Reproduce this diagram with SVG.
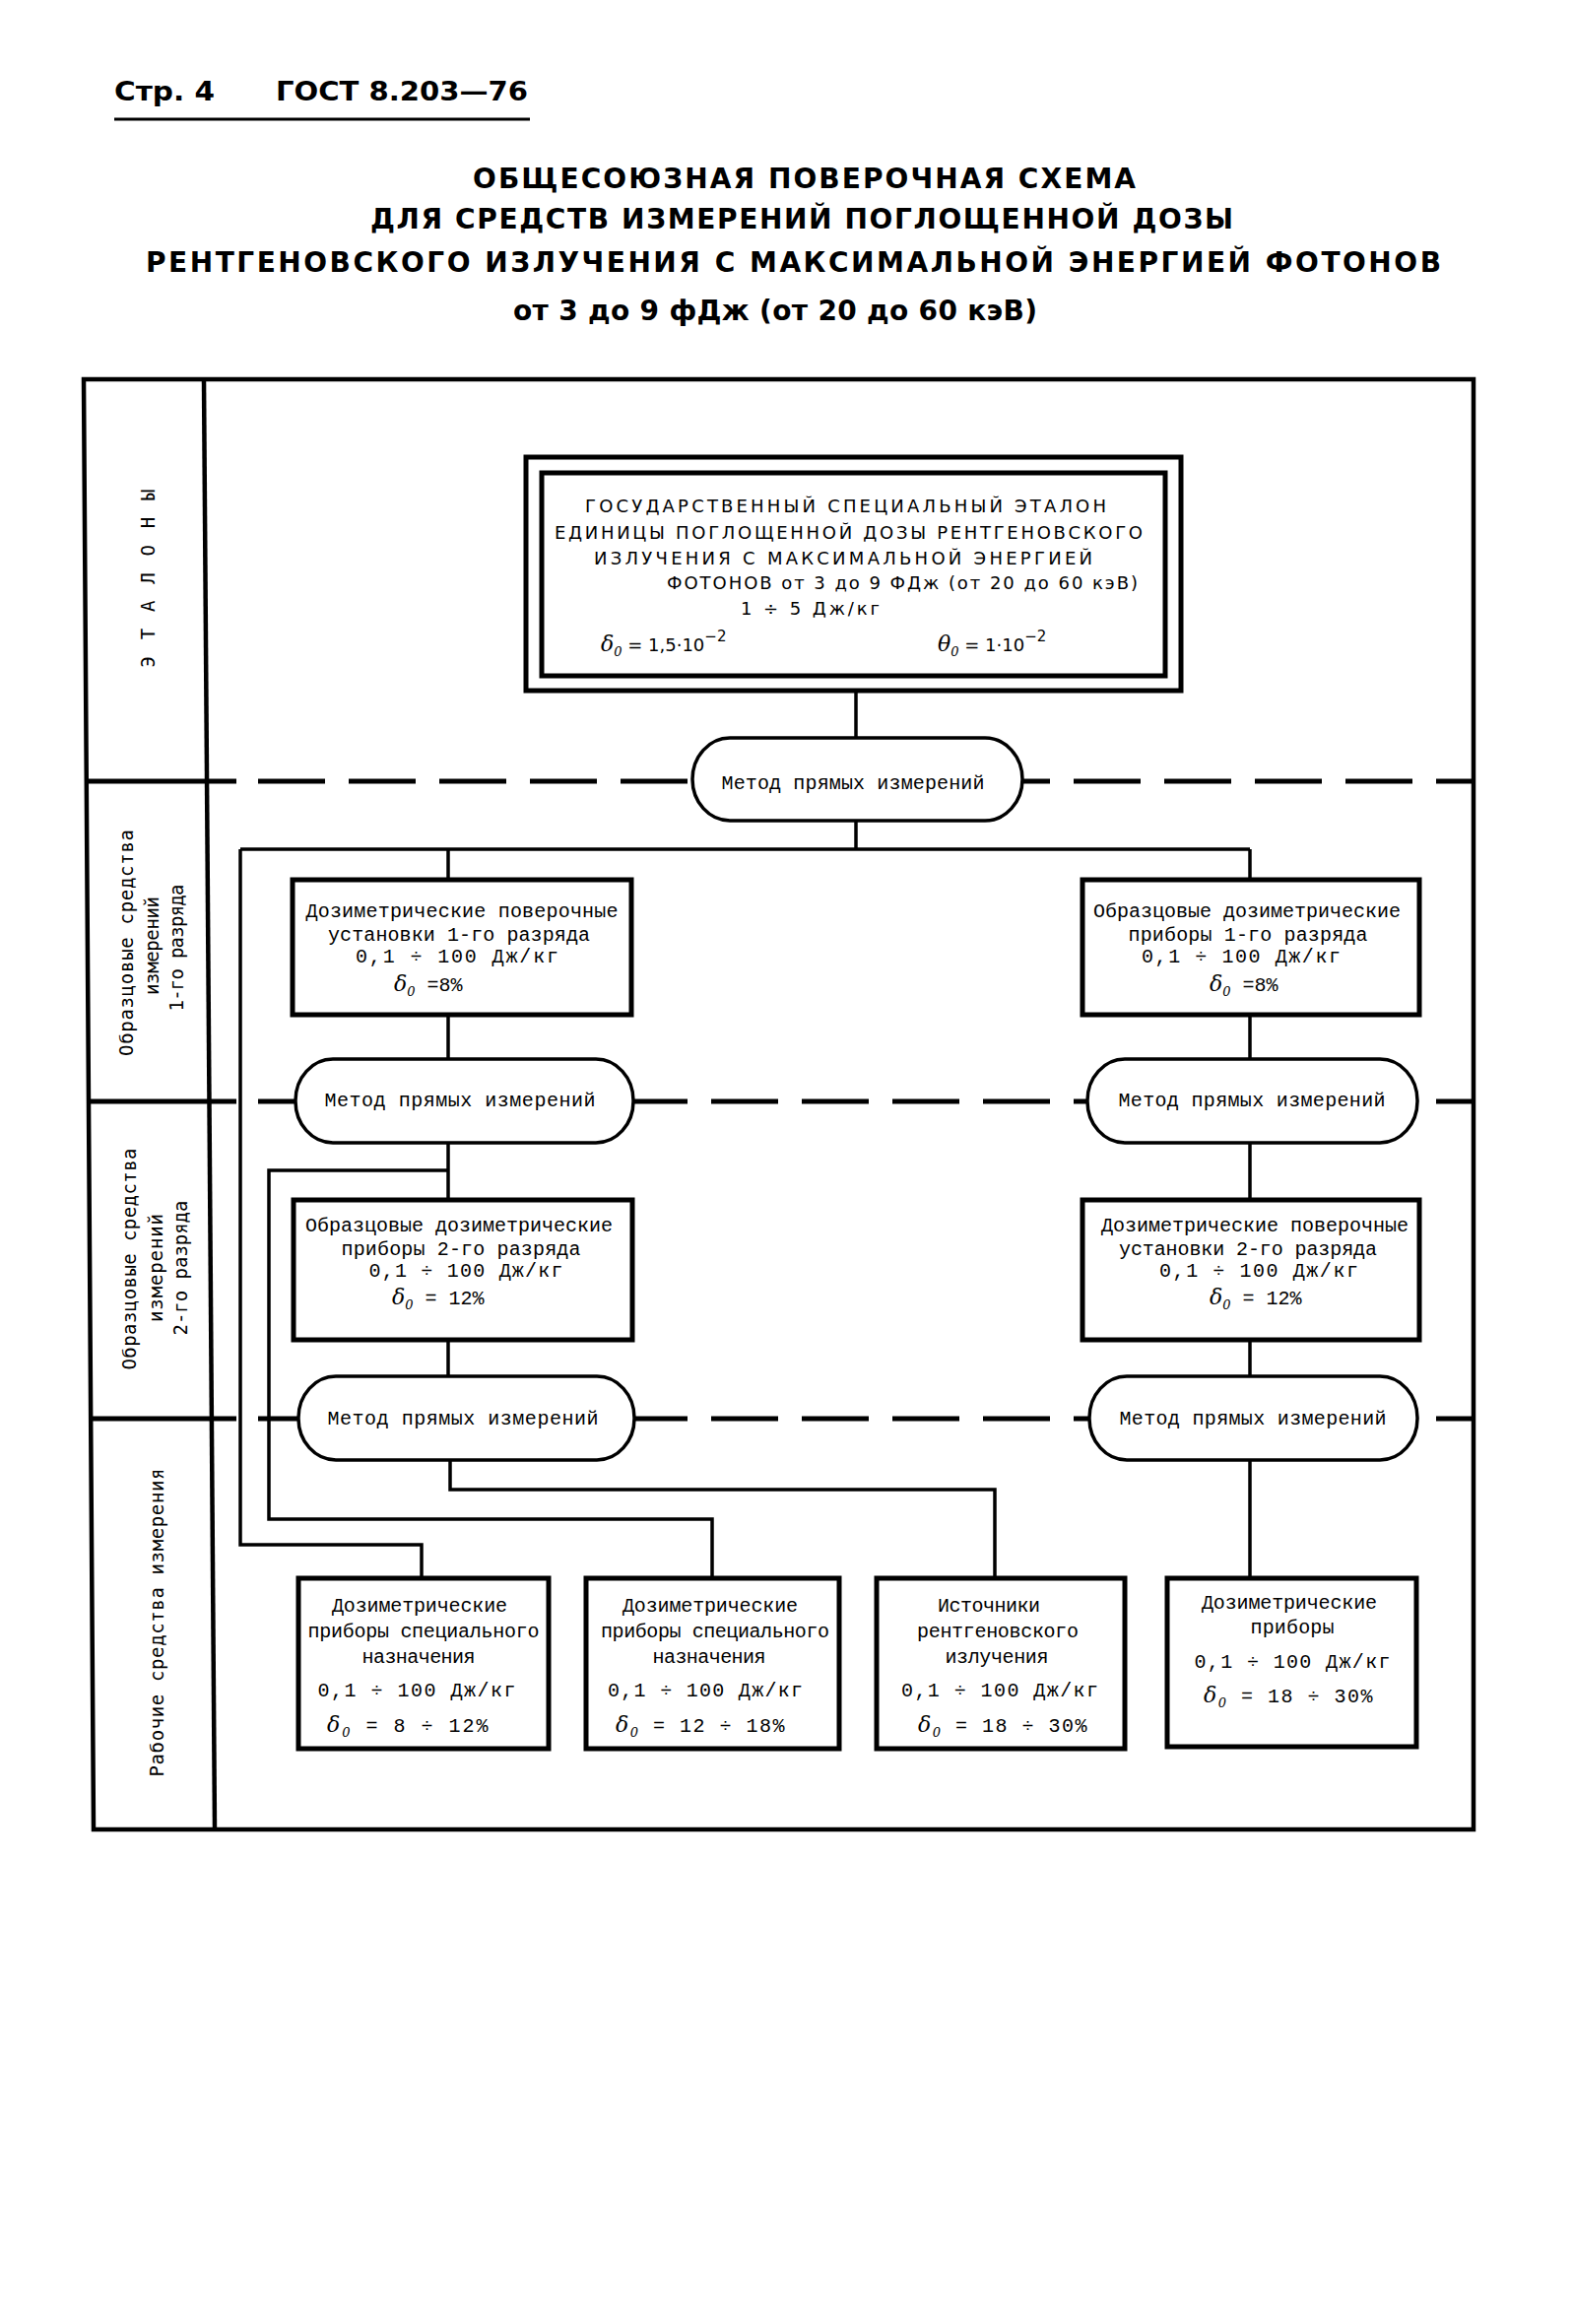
<svg xmlns="http://www.w3.org/2000/svg" width="1597" height="2359" viewBox="0 0 1597 2359">
<style>
.frame{fill:none;stroke:#000;stroke-width:4.5}
.sep{stroke:#000;stroke-width:5;fill:none}
.dash{stroke:#000;stroke-width:5;fill:none;stroke-dasharray:68 24}
.conn{stroke:#000;stroke-width:3.5;fill:none}
.box{fill:#fff;stroke:#000;stroke-width:5}
.oval{fill:#fff;stroke:#000;stroke-width:3.5}
.t{font-family:"Liberation Mono","DejaVu Sans Mono",monospace;font-size:20px;text-anchor:middle;fill:#000}
.ts{font-family:"Liberation Mono","DejaVu Sans Mono",monospace;font-size:20px;fill:#000}
.cap{font-family:"DejaVu Sans","Liberation Sans",sans-serif;font-size:18px;fill:#000}
.lab{font-family:"DejaVu Sans Mono","Liberation Mono",monospace;font-size:19px;text-anchor:middle;fill:#000}
.title{font-family:"DejaVu Sans","Liberation Sans",sans-serif;font-weight:bold;font-size:28px;fill:#000}
.hdr{font-family:"DejaVu Sans","Liberation Sans",sans-serif;font-weight:bold;font-size:26px;fill:#000}
.dl{font-family:"DejaVu Serif","Liberation Serif",serif;font-style:italic;font-size:22px}
.sub{font-family:"DejaVu Serif","Liberation Serif",serif;font-style:italic;font-size:13px}
</style>
<rect x="0" y="0" width="1597" height="2359" fill="#fff"/>

<g id="header">
<text class="hdr" x="116" y="102" textLength="102" lengthAdjust="spacingAndGlyphs">Стр. 4</text>
<text class="hdr" x="280" y="102" textLength="256" lengthAdjust="spacingAndGlyphs">ГОСТ 8.203—76</text>
<line x1="116" y1="121" x2="538" y2="121" stroke="#000" stroke-width="3"/>
</g>

<g id="title">
<text class="title" x="480" y="191" textLength="673">ОБЩЕСОЮЗНАЯ ПОВЕРОЧНАЯ СХЕМА</text>
<text class="title" x="376" y="232" textLength="876">ДЛЯ СРЕДСТВ ИЗМЕРЕНИЙ ПОГЛОЩЕННОЙ ДОЗЫ</text>
<text class="title" x="148" y="276" textLength="1315">РЕНТГЕНОВСКОГО ИЗЛУЧЕНИЯ С МАКСИМАЛЬНОЙ ЭНЕРГИЕЙ ФОТОНОВ</text>
<text class="title" x="521" y="325" textLength="532">от 3 до 9 фДж (от 20 до 60 кэВ)</text>
</g>

<g id="frame">
<polygon class="frame" points="85,385 1496,385 1496,1857 95,1857"/>
<line class="frame" x1="207" y1="385" x2="218" y2="1857"/>
<line class="sep" x1="88" y1="793" x2="240" y2="793"/>
<line class="dash" x1="262" y1="793" x2="1496" y2="793"/>
<line class="sep" x1="90" y1="1118" x2="240" y2="1118"/>
<line class="dash" x1="262" y1="1118" x2="1496" y2="1118"/>
<line class="sep" x1="92" y1="1440" x2="240" y2="1440"/>
<line class="dash" x1="262" y1="1440" x2="1496" y2="1440"/>
</g>

<g id="row-labels">
<text id="lab-etalony" class="lab" font-family="DejaVu Sans, sans-serif" font-size="21" transform="translate(157,587) rotate(-90)" textLength="181">ЭТАЛОНЫ</text>
<g id="lab-rank1">
<text class="lab" transform="translate(135,957) rotate(-90)" textLength="230">Образцовые средства</text>
<text class="lab" transform="translate(161,960) rotate(-90)" textLength="100">измерений</text>
<text class="lab" transform="translate(186,962) rotate(-90)" textLength="129">1-го разряда</text>
</g>
<g id="lab-rank2">
<text class="lab" transform="translate(138,1278) rotate(-90)" textLength="225">Образцовые средства</text>
<text class="lab" transform="translate(165,1287) rotate(-90)" textLength="110">измерений</text>
<text class="lab" transform="translate(190,1287) rotate(-90)" textLength="137">2-го разряда</text>
</g>
<text id="lab-work" class="lab" transform="translate(166,1647) rotate(-90)" textLength="313">Рабочие средства измерения</text>
</g>

<g id="connectors">
<line class="conn" x1="869" y1="701" x2="869" y2="749"/>
<line class="conn" x1="869" y1="833" x2="869" y2="862"/>
<line class="conn" x1="244" y1="862" x2="1269" y2="862"/>
<line class="conn" x1="455" y1="862" x2="455" y2="893"/>
<line class="conn" x1="1269" y1="862" x2="1269" y2="893"/>
<line class="conn" x1="455" y1="1030" x2="455" y2="1075"/>
<line class="conn" x1="1269" y1="1030" x2="1269" y2="1075"/>
<line class="conn" x1="455" y1="1160" x2="455" y2="1218"/>
<line class="conn" x1="1269" y1="1160" x2="1269" y2="1218"/>
<line class="conn" x1="455" y1="1360" x2="455" y2="1397"/>
<line class="conn" x1="1269" y1="1360" x2="1269" y2="1397"/>
<polyline class="conn" points="244,862 244,1568 428,1568 428,1602"/>
<polyline class="conn" points="455,1188 273,1188 273,1542 723,1542 723,1602"/>
<polyline class="conn" points="457,1482 457,1512 1010,1512 1010,1602"/>
<line class="conn" x1="1269" y1="1482" x2="1269" y2="1602"/>
</g>

<g id="n-etalon">
<rect class="box" x="534" y="464" width="665" height="237"/>
<rect class="box" x="550" y="480" width="633" height="206"/>
<text class="cap" x="594" y="520" textLength="529">ГОСУДАРСТВЕННЫЙ СПЕЦИАЛЬНЫЙ ЭТАЛОН</text>
<text class="cap" x="563" y="547" textLength="597">ЕДИНИЦЫ ПОГЛОЩЕННОЙ ДОЗЫ РЕНТГЕНОВСКОГО</text>
<text class="cap" x="603" y="573" textLength="506">ИЗЛУЧЕНИЯ С МАКСИМАЛЬНОЙ ЭНЕРГИЕЙ</text>
<text class="cap" x="677" y="598" textLength="478">ФОТОНОВ от 3 до 9 ФДж (от 20 до 60 кэВ)</text>
<text class="cap" x="752" y="624" textLength="141">1 ÷ 5 Дж/кг</text>
<text class="cap" x="610" y="661" font-size="20"><tspan class="dl" font-size="26">δ</tspan><tspan class="sub" dy="5">0</tspan><tspan dy="-5"> = 1,5·10</tspan><tspan font-size="15" dy="-10">−2</tspan></text>
<text class="cap" x="952" y="661" font-size="20"><tspan class="dl" font-size="26">θ</tspan><tspan class="sub" dy="5">0</tspan><tspan dy="-5"> = 1·10</tspan><tspan font-size="15" dy="-10">−2</tspan></text>
</g>

<g id="n-method0">
<rect class="oval" x="703" y="749" width="335" height="84" rx="38" ry="42"/>
<text class="t" x="866" y="801" textLength="267" font-family="DejaVu Sans Mono, monospace" font-size="18">Метод прямых измерений</text>
</g>

<g id="n-rank1-setup">
<rect class="box" x="297" y="893" width="344" height="137"/>
<text class="t" x="469" y="931" textLength="317">Дозиметрические поверочные</text>
<text class="t" x="466" y="955" textLength="266">установки 1-го разряда</text>
<text class="t" x="464" y="977" textLength="206">0,1 ÷ 100 Дж/кг</text>
<text class="ts" x="400" y="1006"><tspan class="dl">δ</tspan><tspan class="sub" dy="5">0</tspan><tspan dy="-5"> =8%</tspan></text>
</g>

<g id="n-rank1-instr">
<rect class="box" x="1099" y="893" width="342" height="137"/>
<text class="t" x="1266" y="931" textLength="312">Образцовые дозиметрические</text>
<text class="t" x="1267" y="955" textLength="243">приборы 1-го разряда</text>
<text class="t" x="1260" y="977" textLength="202">0,1 ÷ 100 Дж/кг</text>
<text class="ts" x="1228" y="1006"><tspan class="dl">δ</tspan><tspan class="sub" dy="5">0</tspan><tspan dy="-5"> =8%</tspan></text>
</g>

<g id="n-method1-left">
<rect class="oval" x="300" y="1075" width="343" height="85" rx="38" ry="42"/>
<text class="t" x="467" y="1123" textLength="275">Метод прямых измерений</text>
</g>
<g id="n-method1-right">
<rect class="oval" x="1104" y="1075" width="335" height="85" rx="38" ry="42"/>
<text class="t" x="1271" y="1123" textLength="271">Метод прямых измерений</text>
</g>

<g id="n-rank2-instr">
<rect class="box" x="298" y="1218" width="344" height="142"/>
<text class="t" x="466" y="1250" textLength="312">Образцовые дозиметрические</text>
<text class="t" x="468" y="1274" textLength="243">приборы 2-го разряда</text>
<text class="t" x="473" y="1296" textLength="197">0,1 ÷ 100 Дж/кг</text>
<text class="ts" x="398" y="1324"><tspan class="dl">δ</tspan><tspan class="sub" dy="5">0</tspan><tspan dy="-5"> = 12%</tspan></text>
</g>

<g id="n-rank2-setup">
<rect class="box" x="1099" y="1218" width="342" height="142"/>
<text class="t" x="1274" y="1250" textLength="312">Дозиметрические поверочные</text>
<text class="t" x="1267" y="1274" textLength="262">установки 2-го разряда</text>
<text class="t" x="1278" y="1296" textLength="202">0,1 ÷ 100 Дж/кг</text>
<text class="ts" x="1228" y="1324"><tspan class="dl">δ</tspan><tspan class="sub" dy="5">0</tspan><tspan dy="-5"> = 12%</tspan></text>
</g>

<g id="n-method2-left">
<rect class="oval" x="303" y="1397" width="341" height="85" rx="38" ry="42"/>
<text class="t" x="470" y="1446" textLength="275">Метод прямых измерений</text>
</g>
<g id="n-method2-right">
<rect class="oval" x="1106" y="1397" width="333" height="85" rx="38" ry="42"/>
<text class="t" x="1272" y="1446" textLength="271">Метод прямых измерений</text>
</g>

<g id="n-work-special1">
<rect class="box" x="303" y="1602" width="254" height="173"/>
<text class="t" x="426" y="1636" textLength="178">Дозиметрические</text>
<text class="t" x="430" y="1662" textLength="235">приборы специального</text>
<text class="t" x="425" y="1688" textLength="115">назначения</text>
<text class="t" x="423" y="1722" textLength="201">0,1 ÷ 100 Дж/кг</text>
<text class="ts" x="332" y="1758" letter-spacing="2"><tspan class="dl" font-size="26">δ</tspan><tspan class="sub" dy="5">0</tspan><tspan dy="-5"> = 8 ÷ 12%</tspan></text>
</g>

<g id="n-work-special2">
<rect class="box" x="595" y="1602" width="257" height="173"/>
<text class="t" x="721" y="1636" textLength="178">Дозиметрические</text>
<text class="t" x="726" y="1662" textLength="232">приборы специального</text>
<text class="t" x="720" y="1688" textLength="115">назначения</text>
<text class="t" x="716" y="1722" textLength="198">0,1 ÷ 100 Дж/кг</text>
<text class="ts" x="625" y="1758" letter-spacing="1.5"><tspan class="dl" font-size="26">δ</tspan><tspan class="sub" dy="5">0</tspan><tspan dy="-5"> = 12 ÷ 18%</tspan></text>
</g>

<g id="n-work-sources">
<rect class="box" x="890" y="1602" width="252" height="173"/>
<text class="t" x="1004" y="1636" textLength="104">Источники</text>
<text class="t" x="1013" y="1662" textLength="164">рентгеновского</text>
<text class="t" x="1012" y="1688" textLength="105">излучения</text>
<text class="t" x="1015" y="1722" textLength="200">0,1 ÷ 100 Дж/кг</text>
<text class="ts" x="932" y="1758" letter-spacing="1.5"><tspan class="dl" font-size="26">δ</tspan><tspan class="sub" dy="5">0</tspan><tspan dy="-5"> = 18 ÷ 30%</tspan></text>
</g>

<g id="n-work-dosimeters">
<rect class="box" x="1185" y="1602" width="253" height="171"/>
<text class="t" x="1309" y="1633" textLength="178">Дозиметрические</text>
<text class="t" x="1312" y="1658" textLength="85">приборы</text>
<text class="t" x="1312" y="1693" textLength="199">0,1 ÷ 100 Дж/кг</text>
<text class="ts" x="1222" y="1728" letter-spacing="1.5"><tspan class="dl" font-size="26">δ</tspan><tspan class="sub" dy="5">0</tspan><tspan dy="-5"> = 18 ÷ 30%</tspan></text>
</g>
</svg>
